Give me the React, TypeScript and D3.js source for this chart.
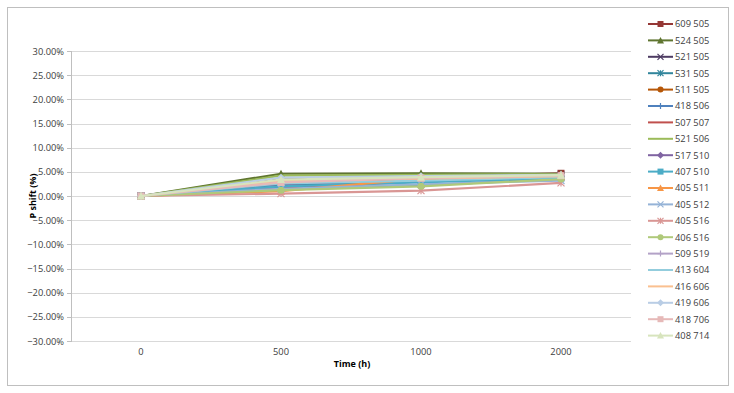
import { useEffect, useRef } from "react";
import * as d3 from "d3";

const categories = ["0", "500", "1000", "2000"];
const seriesNames = [
  "609 505", "524 505", "521 505", "531 505", "511 505",
  "418 506", "507 507", "521 506", "517 510", "407 510",
  "405 511", "405 512", "405 516", "406 516", "509 519",
  "413 604", "416 606", "419 606", "418 706", "408 714",
];
const seriesValues = [
  [0, 2.0, 3.8, 4.7],
  [0, 4.6, 4.7, 4.6],
  [0, 3.5, 3.8, 4.3],
  [0, 2.3, 3.2, 4.0],
  [0, 1.2, 3.5, 4.4],
  [0, 1.8, 2.2, 3.6],
  [0, 1.5, 3.0, 4.2],
  [0, 4.2, 4.4, 4.5],
  [0, 2.5, 3.4, 4.1],
  [0, 2.0, 2.8, 3.7],
  [0, 1.0, 3.6, 4.0],
  [0, 1.5, 2.4, 3.2],
  [0, 0.5, 1.1, 2.7],
  [0, 1.2, 2.0, 3.5],
  [0, 3.0, 4.0, 4.3],
  [0, 2.6, 3.2, 3.9],
  [0, 3.2, 3.6, 4.1],
  [0, 3.8, 4.1, 4.4],
  [0, 2.8, 3.7, 4.2],
  [0, 3.4, 3.9, 4.3],
];
const yTicks = [30, 25, 20, 15, 10, 5, 0, -5, -10, -15, -20, -25, -30];

const colors = [
  "#953735", "#5f7530", "#4d3b62", "#31859c", "#b65708",
  "#4f81bd", "#c0504d", "#9bbb59", "#8064a2", "#4bacc6",
  "#f79646", "#95b3d7", "#d99694", "#afc97a", "#b3a2c7",
  "#93cddd", "#fac090", "#b9cde5", "#e6b9b8", "#d7e4bd",
];
const markers = [
  "square", "triangle", "x", "star", "circle", "plus", "none", "none", "diamond", "square",
  "triangle", "x", "star", "circle", "plus", "none", "none", "diamond", "square", "triangle",
];

const FONT = "'Open Sans', 'Liberation Sans', sans-serif";

function drawMarker(g: d3.Selection<SVGGElement, unknown, null, undefined>, kind: string, x: number, y: number, color: string, s = 3.5) {
  if (kind === "square") {
    g.append("rect").attr("x", x - s).attr("y", y - s).attr("width", 2 * s).attr("height", 2 * s).attr("fill", color);
  } else if (kind === "triangle") {
    g.append("path").attr("d", `M${x},${y - s - 0.5}L${x + s + 0.5},${y + s}L${x - s - 0.5},${y + s}Z`).attr("fill", color);
  } else if (kind === "circle") {
    g.append("circle").attr("cx", x).attr("cy", y).attr("r", s).attr("fill", color);
  } else if (kind === "diamond") {
    g.append("path").attr("d", `M${x},${y - s - 0.5}L${x + s + 0.5},${y}L${x},${y + s + 0.5}L${x - s - 0.5},${y}Z`).attr("fill", color);
  } else if (kind === "x" || kind === "star" || kind === "plus") {
    let d = "";
    if (kind !== "plus") d += `M${x - s},${y - s}L${x + s},${y + s}M${x - s},${y + s}L${x + s},${y - s}`;
    if (kind !== "x") d += `M${x},${y - s}L${x},${y + s}`;
    if (kind === "plus") d += `M${x - s},${y}L${x + s},${y}`;
    g.append("path").attr("d", d).attr("stroke", color).attr("stroke-width", 1.2).attr("fill", "none");
  }
}

export default function App() {
  const ref = useRef<SVGSVGElement | null>(null);
  const width = 734;
  const height = 393;
  const plot = { left: 71, right: 631, top: 51, bottom: 341 };

  useEffect(() => {
    document.body.style.margin = "0";
    const svg = d3.select(ref.current);
    svg.selectAll("*").remove();

    svg.append("rect")
      .attr("x", 7.5).attr("y", 7.5).attr("width", 721).attr("height", 378)
      .attr("fill", "white").attr("stroke", "#bfbfbf").attr("stroke-width", 1);

    const x = d3.scaleBand<string>().domain(categories).range([plot.left, plot.right]);
    const y = d3.scaleLinear().domain([-30, 30]).range([plot.bottom, plot.top]);

    // gridlines
    svg.append("g").selectAll("line").data(yTicks).enter().append("line")
      .attr("x1", plot.left).attr("x2", plot.right)
      .attr("y1", (d) => Math.round(y(d)) + 0.5).attr("y2", (d) => Math.round(y(d)) + 0.5)
      .attr("stroke", "#d9d9d9").attr("stroke-width", 1);

    // left axis
    svg.append("line")
      .attr("x1", plot.left + 0.5).attr("x2", plot.left + 0.5)
      .attr("y1", plot.top).attr("y2", plot.bottom + 1)
      .attr("stroke", "#bfbfbf");
    svg.append("g").selectAll("line").data(yTicks).enter().append("line")
      .attr("x1", plot.left - 4).attr("x2", plot.left)
      .attr("y1", (d) => Math.round(y(d)) + 0.5).attr("y2", (d) => Math.round(y(d)) + 0.5)
      .attr("stroke", "#bfbfbf");
    svg.append("g").selectAll("text").data(yTicks).enter().append("text")
      .attr("x", 64).attr("y", (d) => y(d) + 3.5)
      .attr("text-anchor", "end")
      .attr("font-family", FONT).attr("font-size", 9.3).attr("fill", "#404040")
      .text((d) => d3.format(".2f")(d) + "%");

    // category labels
    svg.append("g").selectAll("text").data(categories).enter().append("text")
      .attr("x", (d) => (x(d) ?? 0) + x.bandwidth() / 2).attr("y", 355)
      .attr("text-anchor", "middle")
      .attr("font-family", FONT).attr("font-size", 9.3).attr("fill", "#404040")
      .text((d) => d);

    // axis titles
    svg.append("text")
      .attr("x", 352).attr("y", 367).attr("text-anchor", "middle")
      .attr("font-family", FONT).attr("font-size", 9).attr("font-weight", "bold").attr("fill", "#000")
      .text("Time (h)");
    svg.append("text")
      .attr("transform", `translate(36,${y(0)}) rotate(-90)`)
      .attr("text-anchor", "middle")
      .attr("font-family", FONT).attr("font-size", 9).attr("font-weight", "bold").attr("fill", "#000")
      .text("P shift (%)");

    const cx = (c: string) => (x(c) ?? 0) + x.bandwidth() / 2;
    const line = d3.line<number>()
      .x((_, i) => cx(categories[i]))
      .y((d) => y(d));

    const series = svg.append("g");
    seriesValues.forEach((vals, si) => {
      const g = series.append("g");
      g.append("path").attr("d", line(vals) ?? "")
        .attr("fill", "none").attr("stroke", colors[si]).attr("stroke-width", 2.2)
        .attr("stroke-linejoin", "round");
      vals.forEach((v, i) => drawMarker(g, markers[si], cx(categories[i]), y(v), colors[si]));
    });

    // legend
    const legend = svg.append("g");
    seriesNames.forEach((name, i) => {
      const ly = 24 + i * 16.4;
      const g = legend.append("g");
      g.append("line").attr("x1", 648).attr("x2", 673).attr("y1", ly).attr("y2", ly)
        .attr("stroke", colors[i]).attr("stroke-width", 2);
      drawMarker(g, markers[i], 660.5, ly, colors[i], 3);
      g.append("text").attr("x", 675).attr("y", ly + 3.3)
        .attr("font-family", FONT).attr("font-size", 9.3).attr("fill", "#404040")
        .text(name);
    });
  }, []);

  return <svg ref={ref} width={width} height={height} style={{ display: "block" }}></svg>;
}
